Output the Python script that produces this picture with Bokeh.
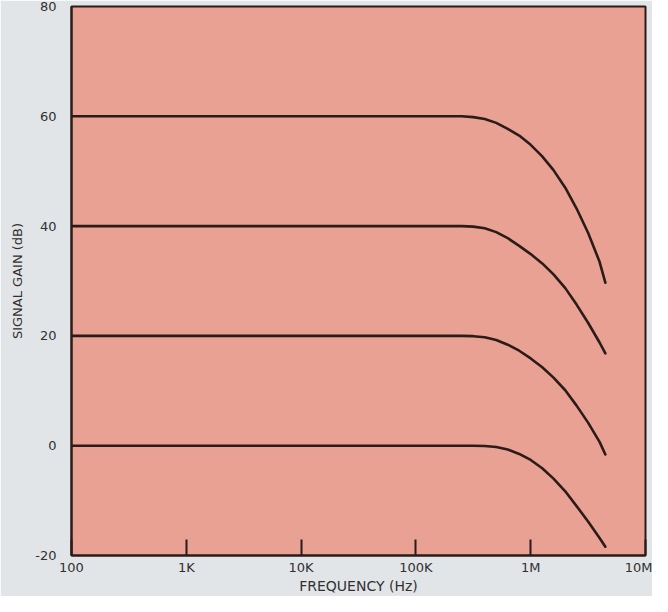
from bokeh.plotting import figure
from bokeh.models import FixedTicker, Range1d
from bokeh.embed import file_html
from bokeh.resources import INLINE

# Frequency points (Hz) shared by all curves
freq_hz = [100, 1000, 10000, 100000, 251000, 316000, 398000, 501000, 631000,
           794000, 1000000, 1260000, 1580000, 2000000, 2510000, 3160000,
           3980000, 4470000]

# Signal gain (dB) for each curve
gain_60 = [60, 60, 60, 60, 60, 59.85, 59.5, 58.8, 57.7, 56.5, 54.8, 52.7,
           50.2, 47.0, 43.2, 38.8, 33.5, 29.7]
gain_40 = [40, 40, 40, 40, 40, 39.9, 39.6, 38.9, 37.8, 36.4, 34.9, 33.2,
           31.2, 28.7, 25.7, 22.4, 18.8, 16.8]
gain_20 = [20, 20, 20, 20, 20, 19.95, 19.75, 19.25, 18.4, 17.3, 15.9, 14.3,
           12.4, 10.1, 7.3, 4.2, 0.7, -1.6]
gain_0 = [0, 0, 0, 0, 0, 0, -0.05, -0.25, -0.7, -1.5, -2.6, -4.1,
          -6.0, -8.3, -11.0, -13.8, -16.8, -18.4]

x_ticks = [100, 1000, 10000, 100000, 1000000, 10000000]
x_tick_labels = ["100", "1K", "10K", "100K", "1M", "10M"]
y_ticks = [-20, 0, 20, 40, 60, 80]

FONT = "DejaVu Sans"
TEXT = "#333030"
DARK = "#2b1b19"

p = figure(width=652, height=596, x_axis_type="log",
           x_range=Range1d(100, 10000000), y_range=Range1d(-20, 80),
           output_backend="svg", toolbar_location=None,
           min_border_left=71, min_border_right=7,
           min_border_top=6, min_border_bottom=41)

p.background_fill_color = "#e9a193"
p.border_fill_color = "#e1e5e8"
p.outline_line_color = DARK
p.outline_line_width = 2
p.xgrid.visible = False
p.ygrid.visible = False

for g in [gain_60, gain_40, gain_20, gain_0]:
    p.line(freq_hz, g, line_color=DARK, line_width=2.6,
           line_join="round", line_cap="round")

xa = p.xaxis[0]
xa.ticker = FixedTicker(ticks=x_ticks, minor_ticks=[])
xa.major_label_overrides = {t: l for t, l in zip(x_ticks, x_tick_labels)}
xa.major_tick_in = 16
xa.major_tick_out = 0
xa.major_tick_line_color = DARK
xa.major_tick_line_width = 2
xa.minor_tick_line_color = None
xa.axis_line_color = DARK
xa.axis_line_width = 2
xa.major_label_standoff = 4
xa.major_label_text_font = FONT
xa.major_label_text_font_size = "13px"
xa.major_label_text_color = TEXT
xa.axis_label = "FREQUENCY (Hz)"
xa.axis_label_text_font = FONT
xa.axis_label_text_font_size = "14px"
xa.axis_label_text_font_style = "normal"
xa.axis_label_text_color = TEXT
xa.axis_label_standoff = 0

ya = p.yaxis[0]
ya.ticker = FixedTicker(ticks=y_ticks, minor_ticks=[])
ya.major_label_overrides = {-20: "-20"}
ya.major_tick_line_color = None
ya.minor_tick_line_color = None
ya.axis_line_color = DARK
ya.axis_line_width = 2
ya.major_label_standoff = 9
ya.major_label_text_font = FONT
ya.major_label_text_font_size = "13px"
ya.major_label_text_color = TEXT
ya.axis_label = "SIGNAL GAIN (dB)"
ya.axis_label_text_font = FONT
ya.axis_label_text_font_size = "13px"
ya.axis_label_text_font_style = "normal"
ya.axis_label_text_color = TEXT
ya.axis_label_standoff = 7

open("out.html", "w").write(file_html(p, INLINE))
